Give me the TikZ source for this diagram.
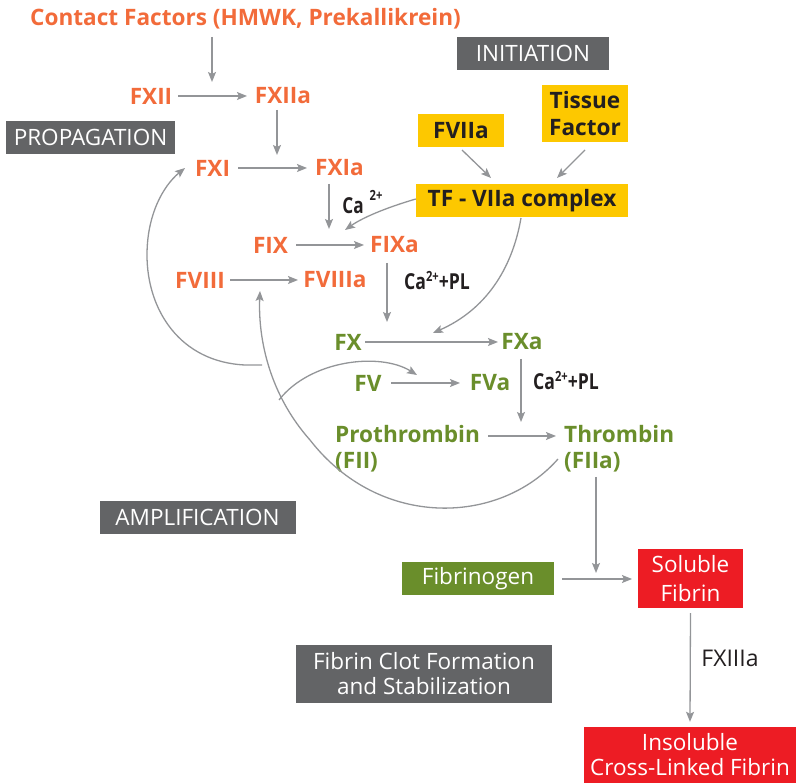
\documentclass[tikz,border=0pt]{standalone}
\usepackage{fontspec}
\usepackage{graphicx}
\setmainfont{Open Sans}
\usetikzlibrary{arrows.meta}
\definecolor{corange}{HTML}{F26B3A}
\definecolor{cgreen}{HTML}{6A8E2B}
\definecolor{cyellow}{HTML}{FDC800}
\definecolor{cgraybox}{HTML}{636466}
\definecolor{cred}{HTML}{ED1C24}
\definecolor{carrow}{HTML}{939598}
\definecolor{ctext}{HTML}{231F20}
\tikzset{
  fac/.style={inner sep=0pt, font=\fontsize{22.6}{26}\selectfont\bfseries},
  ofac/.style={fac, text=corange},
  gfac/.style={fac, text=cgreen},
  ybox/.style={fill=cyellow, text=ctext, inner sep=0pt, font=\fontsize{22.6}{27}\selectfont\bfseries, align=center},
  graybox/.style={fill=cgraybox, text=white, inner sep=0pt, font=\fontsize{22.5}{25}\selectfont, align=center},
  redbox/.style={fill=cred, text=white, inner sep=0pt, font=\fontsize{22.5}{25}\selectfont, align=center},
  greenbox/.style={fill=cgreen, text=white, inner sep=0pt, font=\fontsize{22.5}{25}\selectfont, align=center},
  calab/.style={inner sep=0pt, text=ctext, font=\fontsize{22}{22}\selectfont\bfseries},
  arr/.style={draw=carrow, line width=1.3pt, -{Stealth[length=10pt,width=8pt,inset=2pt]}},
}
\begin{document}
\begin{tikzpicture}[x=1pt,y=-1pt]
\useasboundingbox (0,0) rectangle (796,783);
% text nodes
\node[ofac] (contact) at (245.5,19) {Contact Factors (HMWK, Prekallikrein)};
\node[ofac] (fxii) at (151,96) {FXII};
\node[ofac] (fxiia) at (283,96) {FXIIa};
\node[ofac] (fxi) at (212.5,168) {FXI};
\node[ofac] (fxia) at (339.5,168) {FXIa};
\node[ofac] (fix) at (270.5,245) {FIX};
\node[ofac] (fixa) at (394.5,245) {FIXa};
\node[ofac] (fviii) at (200,280) {FVIII};
\node[ofac] (fviiia) at (335,280) {FVIIIa};
\node[gfac] (fx) at (348,342) {FX};
\node[gfac] (fxa) at (522,342) {FXa};
\node[gfac] (fv) at (368,383) {FV};
\node[gfac] (fva) at (490,383) {FVa};
\node[gfac, align=left, anchor=west] (proth) at (335,449) {Prothrombin\\(FII)};
\node[gfac, align=left, anchor=west] (thromb) at (564,449) {Thrombin\\(FIIa)};
% Ca labels
\node[calab] (ca1) at (353,206) {\scalebox{0.78}[1]{Ca}};
\node[calab, font=\fontsize{14}{14}\selectfont\bfseries] (ca1s) at (376,195) {\scalebox{0.8}[1]{2+}};
\node[calab] (capl1) at (437,281) {\scalebox{0.8}[1]{Ca\raisebox{8pt}{\fontsize{14}{14}\selectfont 2+}+PL}};
\node[calab] (capl2) at (566,381) {\scalebox{0.8}[1]{Ca\raisebox{8pt}{\fontsize{14}{14}\selectfont 2+}+PL}};
% boxes
\node[graybox, minimum width=169pt, minimum height=33pt] (prop) at (90.5,137.5) {PROPAGATION};
\node[graybox, minimum width=152pt, minimum height=33pt] (init) at (533,53.5) {INITIATION};
\node[graybox, minimum width=196pt, minimum height=33pt] (amp) at (197.5,517.5) {AMPLIFICATION};
\node[graybox, minimum width=256pt, minimum height=58pt] (clot) at (424,674) {Fibrin Clot Formation\\and Stabilization};
\node[ybox, minimum width=86pt, minimum height=33pt] (fviia) at (461,130.5) {FVIIa};
\node[ybox, minimum width=86pt, minimum height=57pt] (tissue) at (585,113.5) {Tissue\\Factor};
\node[ybox, minimum width=212pt, minimum height=33pt] (tfc) at (522,200.5) {TF - VIIa complex};
\node[greenbox, minimum width=152pt, minimum height=33pt] (fibgen) at (478,578.5) {Fibrinogen};
\node[redbox, minimum width=105pt, minimum height=59pt, font=\fontsize{22.5}{29}\selectfont] (sol) at (690.5,578.5) {Soluble\\Fibrin};
\node[redbox, minimum width=212pt, minimum height=56pt] (insol) at (690,755) {Insoluble\\Cross-Linked Fibrin};
\node[inner sep=0pt, text=ctext, font=\fontsize{23}{24}\selectfont] (fxiiia) at (730,658) {FXIIIa};
% coordinates
\coordinate (c1) at (212,82);
\coordinate (c2) at (277,155);
\coordinate (c3) at (329,229);
\coordinate (c4) at (345,230);
\coordinate (c5) at (387,322);
\coordinate (c6) at (433,333);
\coordinate (c7) at (521,422);
\coordinate (c8) at (596,573);
\coordinate (bstart) at (558,459);
\coordinate (bmid) at (310,440);
\coordinate (btip) at (260,291);
\coordinate (br) at (279,400);
\coordinate (brtip) at (417,375);
\coordinate (lj) at (262,365);
\coordinate (ltip) at (185,168);
\coordinate (t1) at (491,178);
\coordinate (t2) at (557,178);
% arrows
\draw[arr] (212,37) -- (c1);
\draw[arr] (178,96) -- (247,96);
\draw[arr] (277,110) -- (c2);
\draw[arr] (238,168) -- (307,168);
\draw[arr] (329,184) -- (c3);
\draw[arr] (462,150) -- (t1);
\draw[arr] (585,150) -- (t2);
\draw[arr] ([yshift=1.5pt]tfc.west) .. controls (385,208) and (362,218) .. (c4);
\draw[arr] (296,245) -- (364,245);
\draw[arr] (230,280) -- (298,280);
\draw[arr] (387,263) -- (c5);
\draw[arr] (521,218) .. controls (512,270) and (485,310) .. (c6);
\draw[arr] (365,342) -- (498,342);
\draw[arr] (391,383) -- (460,383);
\draw[arr] (521,359) -- (c7);
\draw[arr] (488,436) -- (556,436);
\draw[arr] (bstart) .. controls (500,525) and (380,530) .. (bmid) .. controls (270,395) and (258,340) .. (btip);
\draw[arr] (br) .. controls (310,360) and (380,352) .. (brtip);
\draw[arr] (lj) -- (245,365) .. controls (180,362) and (147,310) .. (147,255) .. controls (147,215) and (163,186) .. (ltip);
\draw[arr] (596,477) -- (c8);
\draw[arr] (562,579) -- (632,579);
\draw[arr] ([yshift=-5pt]sol.south) -- ([yshift=5pt]insol.north);
\end{tikzpicture}
\end{document}
